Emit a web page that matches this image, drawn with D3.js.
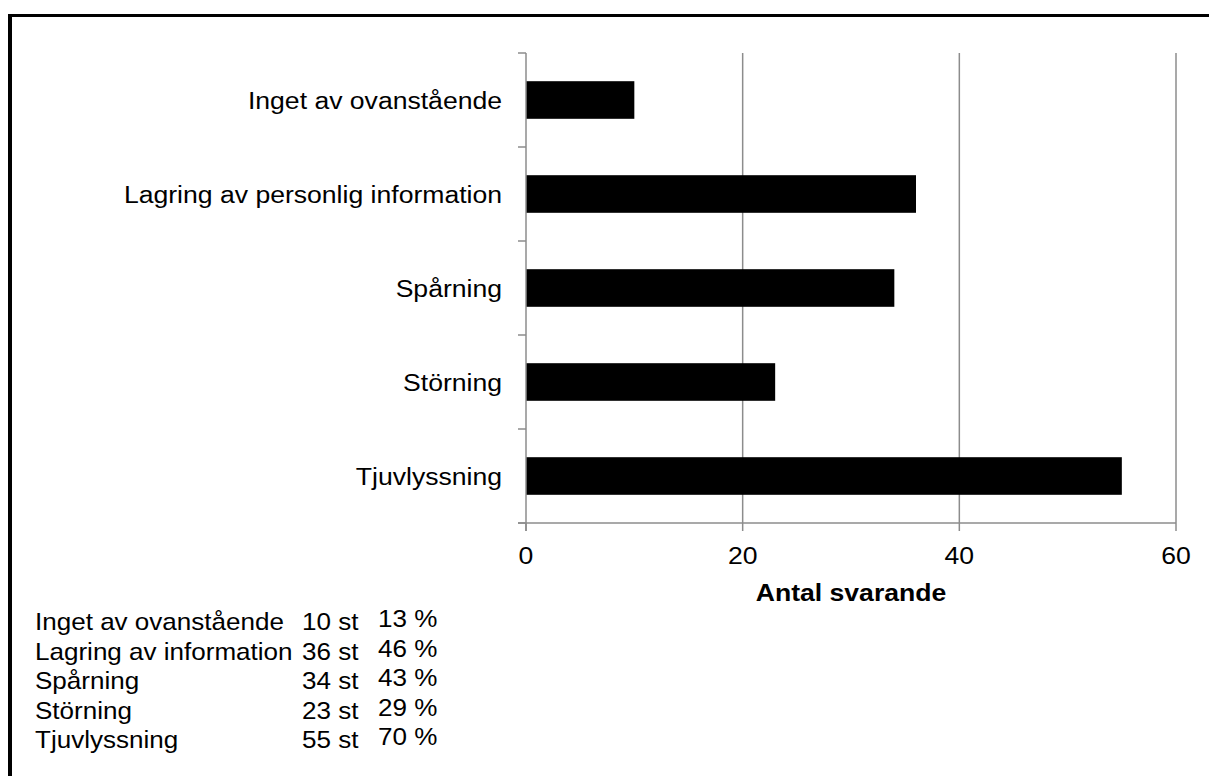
<!DOCTYPE html>
<html>
<head>
<meta charset="utf-8">
<script src="https://cdn.jsdelivr.net/npm/d3@7"></script>
<style>
  html, body { margin: 0; padding: 0; background: #fff; }
  svg { display: block; }
  text { font-family: "Liberation Sans", Arial, sans-serif; fill: #000; }
</style>
</head>
<body>
<svg id="chart" width="1209" height="776"></svg>
<script>
// Survey answers: number of respondents per threat category
const categories = [
  "Inget av ovanstående",
  "Lagring av personlig information",
  "Spårning",
  "Störning",
  "Tjuvlyssning"
];
const counts = [10, 36, 34, 23, 55];

// Summary table below the chart
const summaryLabels = [
  "Inget av ovanstående",
  "Lagring av information",
  "Spårning",
  "Störning",
  "Tjuvlyssning"
];
const summaryCounts = [10, 36, 34, 23, 55];
const summaryPercents = [13, 46, 43, 29, 70];

const xTicks = [0, 20, 40, 60];
const xTitle = "Antal svarande";

const svg = d3.select("#chart");
const SX = 1.085; // slight horizontal widening of the type

function place(sel, x, y) {
  return sel.attr("transform", `translate(${x},${y}) scale(${SX},1)`);
}

// Frame
svg.append("line").attr("x1", 10).attr("x2", 10).attr("y1", 14).attr("y2", 776)
  .attr("stroke", "#000").attr("stroke-width", 4);
svg.append("line").attr("x1", 8).attr("x2", 1209).attr("y1", 15.5).attr("y2", 15.5)
  .attr("stroke", "#000").attr("stroke-width", 3);

const plot = { left: 526, right: 1176, top: 53, bottom: 523 };

const x = d3.scaleLinear().domain([0, 60]).range([plot.left, plot.right]);
const y = d3.scaleBand().domain(categories).range([plot.top, plot.bottom])
  .paddingInner(0.6).paddingOuter(0.3);

const axisColor = "#8c8c8c";

// Vertical gridlines
svg.append("g").selectAll("line").data(xTicks.filter(t => t > 0)).join("line")
  .attr("x1", d => x(d)).attr("x2", d => x(d))
  .attr("y1", plot.top).attr("y2", plot.bottom)
  .attr("stroke", axisColor).attr("stroke-width", 1.5);

// Bars
svg.append("g").selectAll("rect").data(categories).join("rect")
  .attr("x", x(0))
  .attr("y", d => y(d))
  .attr("width", (d, i) => x(counts[i]) - x(0))
  .attr("height", y.bandwidth())
  .attr("fill", "#000");

// Category axis line and ticks at band boundaries
svg.append("line").attr("x1", x(0)).attr("x2", x(0))
  .attr("y1", plot.top).attr("y2", plot.bottom + 8)
  .attr("stroke", axisColor).attr("stroke-width", 1.5);
const boundaries = d3.range(categories.length + 1).map(i => plot.top + i * y.step());
svg.append("g").selectAll("line").data(boundaries).join("line")
  .attr("x1", x(0) - 8).attr("x2", x(0))
  .attr("y1", d => d).attr("y2", d => d)
  .attr("stroke", axisColor).attr("stroke-width", 1.5);

// Value axis line and ticks
svg.append("line").attr("x1", x(0) - 8).attr("x2", plot.right)
  .attr("y1", plot.bottom).attr("y2", plot.bottom)
  .attr("stroke", axisColor).attr("stroke-width", 1.5);
svg.append("g").selectAll("line").data(xTicks).join("line")
  .attr("x1", d => x(d)).attr("x2", d => x(d))
  .attr("y1", plot.bottom).attr("y2", plot.bottom + 8)
  .attr("stroke", axisColor).attr("stroke-width", 1.5);

// Tick labels
svg.append("g").selectAll("text").data(xTicks).join("text")
  .each(function (d) { place(d3.select(this), x(d), 564); })
  .attr("text-anchor", "middle").attr("font-size", 24.5)
  .text(d => d);

// Axis title
place(svg.append("text"), (plot.left + plot.right) / 2, 601)
  .attr("text-anchor", "middle").attr("font-size", 24.5).attr("font-weight", "bold")
  .text(xTitle);

// Category labels
svg.append("g").selectAll("text").data(categories).join("text")
  .each(function (d) { place(d3.select(this), 502, y(d) + y.bandwidth() / 2 + 8.7); })
  .attr("text-anchor", "end").attr("font-size", 24.5)
  .text(d => d);

// Summary table
const rowY = i => 630 + i * 29.5;
const table = svg.append("g").attr("font-size", 24);
summaryLabels.forEach((lab, i) => {
  place(table.append("text"), 35, rowY(i)).text(lab);
  place(table.append("text"), 302, rowY(i)).text(`${summaryCounts[i]} st`);
  place(table.append("text"), 378, rowY(i) - 3).text(`${summaryPercents[i]} %`);
});
</script>
</body>
</html>
